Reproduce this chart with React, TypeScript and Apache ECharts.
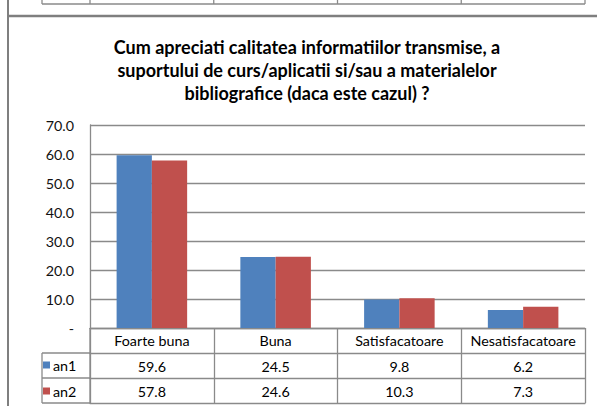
import React, { useEffect, useRef } from 'react';
import * as echarts from 'echarts';

const categories = ['Foarte buna', 'Buna', 'Satisfacatoare', 'Nesatisfacatoare'];
const seriesNames = ['an1', 'an2'];
const an1 = [59.6, 24.5, 9.8, 6.2];
const an2 = [57.8, 24.6, 10.3, 7.3];
const yMin = 0;
const yMax = 70;
const yStep = 10;
const titleLines = [
  'Cum apreciati calitatea informatiilor transmise, a',
  'suportului de curs/aplicatii si/sau a materialelor',
  'bibliografice (daca este cazul) ?',
];
const colors = ['#4F81BD', '#C0504D'];

const W = 597;
const H = 406;
const FONT = 'Lato, "Liberation Sans", sans-serif';
const GRAY = '#8a8a8a';
const FS = 14.3;

export default function App() {
  const ref = useRef<HTMLDivElement>(null);
  useEffect(() => {
    if (!ref.current) return;
    const chart = echarts.init(ref.current, undefined, { renderer: 'svg', width: W, height: H });
    const plotLeft = 90;
    const plotRight = 585;
    const plotBottom = 328;
    const rowH = 25;
    const colW = (plotRight - plotLeft) / categories.length;
    const lineStyle = { stroke: GRAY, lineWidth: 1.3 };
    const graphics: any[] = [];
    graphics.push({ type: 'line', shape: { x1: 8, y1: 0, x2: 8, y2: H }, style: { stroke: '#7f7f7f', lineWidth: 2 } });
    graphics.push({ type: 'line', shape: { x1: 8, y1: 16, x2: W, y2: 16 }, style: { stroke: '#7f7f7f', lineWidth: 2.5 } });
    graphics.push({ type: 'line', shape: { x1: 42, y1: 4, x2: plotRight, y2: 4 }, style: lineStyle });
    const fragXs = [42, plotLeft];
    for (let i = 1; i <= categories.length; i++) fragXs.push(plotLeft + colW * i);
    fragXs.forEach((x) => graphics.push({ type: 'line', shape: { x1: x, y1: 0, x2: x, y2: 4 }, style: lineStyle }));
    graphics.push({ type: 'line', shape: { x1: 42, y1: plotBottom + rowH, x2: 42, y2: plotBottom + rowH * 3 }, style: lineStyle });
    for (let r = 1; r <= 3; r++) {
      graphics.push({ type: 'line', shape: { x1: 42, y1: plotBottom + rowH * r, x2: plotLeft, y2: plotBottom + rowH * r }, style: lineStyle });
    }
    graphics.push({ type: 'line', shape: { x1: plotLeft, y1: plotBottom, x2: plotLeft, y2: plotBottom + rowH * 3 }, style: lineStyle });
    graphics.push({
      type: 'text',
      x: 307,
      y: 35,
      style: {
        text: titleLines.join('\n'),
        textAlign: 'center',
        textVerticalAlign: 'top',
        fontFamily: FONT,
        fontWeight: 'bold',
        fontSize: 18,
        lineHeight: 23,
        fill: '#000',
      },
    });

    const rowAxis = (vals: number[], offset: number) => ({
      type: 'category',
      gridIndex: 0,
      position: 'bottom',
      offset,
      data: vals.map((v) => v.toFixed(1)),
      axisLine: { show: true, lineStyle: { color: GRAY, width: 1.3 } },
      axisTick: { show: false },
      axisLabel: { show: true, interval: 0, margin: 6, fontSize: FS, fontFamily: FONT, color: '#000' },
      splitLine: { show: false },
    });

    const legendCommon = {
      padding: 0,
      icon: 'rect',
      itemWidth: 7,
      itemHeight: 7,
      itemGap: 0,
      selectedMode: false,
      textStyle: { fontSize: FS, fontFamily: FONT, color: '#000', padding: [0, 0, 0, -2] },
    };

    chart.setOption({
      animation: false,
      color: colors,
      grid: { left: plotLeft, right: W - plotRight, top: 125, bottom: H - plotBottom, containLabel: false },
      legend: [
        { ...legendCommon, data: [seriesNames[0]], left: 43, top: 358 },
        { ...legendCommon, data: [seriesNames[1]], left: 43, top: 384 },
      ],
      xAxis: [
        {
          type: 'category',
          data: categories,
          position: 'bottom',
          axisLine: { show: true, lineStyle: { color: GRAY, width: 1.3 } },
          axisTick: { show: true, length: rowH * 3, lineStyle: { color: GRAY, width: 1.3 } },
          axisLabel: { interval: 0, margin: 5, fontSize: FS, fontFamily: FONT, color: '#000' },
          splitLine: { show: false },
        },
        rowAxis(an1, rowH),
        rowAxis(an2, rowH * 2),
        {
          type: 'category',
          gridIndex: 0,
          position: 'bottom',
          offset: rowH * 3,
          data: categories,
          axisLine: { show: true, lineStyle: { color: GRAY, width: 1.3 } },
          axisTick: { show: false },
          axisLabel: { show: false },
        },
      ],
      yAxis: {
        type: 'value',
        min: yMin,
        max: yMax,
        interval: yStep,
        axisLine: { show: true, lineStyle: { color: GRAY, width: 1.3 } },
        axisTick: { show: false },
        axisLabel: {
          margin: 16,
          fontSize: FS,
          fontFamily: FONT,
          color: '#111',
          formatter: (v: number) => (v === 0 ? '-' : v.toFixed(1)),
        },
        splitLine: { show: true, lineStyle: { color: GRAY, width: 1.3 } },
      },
      series: [
        { name: seriesNames[0], type: 'bar', data: an1, barGap: '0%', barCategoryGap: '43%', xAxisIndex: 0 },
        { name: seriesNames[1], type: 'bar', data: an2, barGap: '0%', barCategoryGap: '43%', xAxisIndex: 0 },
      ],
      graphic: graphics,
    });
    return () => chart.dispose();
  }, []);
  return <div ref={ref} style={{ position: 'fixed', left: 0, top: 0, width: W, height: H, background: '#fff' }} />;
}
